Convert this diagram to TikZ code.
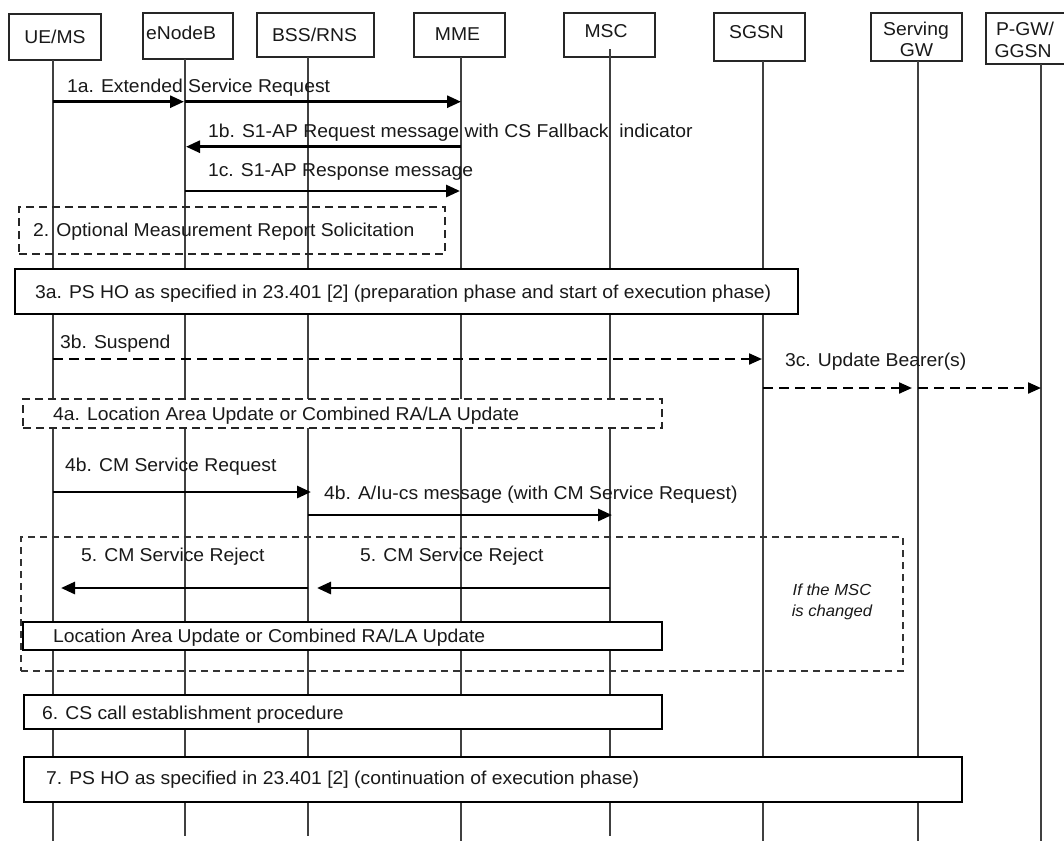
\documentclass[tikz,border=0pt]{standalone}
\usepackage{fontspec}
\setmainfont{Liberation Sans}[FakeStretch=1.04]
\usetikzlibrary{arrows.meta}
\begin{document}
\begin{tikzpicture}[x=1pt,y=-1pt,
  txt/.style={font=\fontsize{18.6}{22}\selectfont, text=black!90, inner sep=0pt, outer sep=0pt},
  lbl/.style={txt, anchor=base west},
  ctr/.style={txt, anchor=base},
  hbox/.style={draw=black!85, line width=1.4pt, fill=white, inner sep=0pt, outer sep=0pt},
  life/.style={draw=black!75, line width=1.1pt},
  msg/.style={draw=black, line width=2.8pt, -{Triangle[length=14pt,width=12pt]}},
  dmsg/.style={draw=black, line width=2.1pt, dash pattern=on 10pt off 6pt, -{Triangle[length=13pt,width=11pt]}},
  dbox/.style={draw=black!85, line width=1.5pt, dash pattern=on 8pt off 5pt, anchor=north west, inner sep=0pt, outer sep=0pt},
  sbox/.style={draw=black, line width=2pt, fill=white, anchor=north west, inner sep=0pt, outer sep=0pt},
]
\clip (0,0) rectangle (1064,841);
\fill[white] (0,0) rectangle (1064,841);

% header boxes
\node[hbox, minimum width=92pt, minimum height=46pt] (ueB) at (55,37) {};
\node[hbox, minimum width=90pt, minimum height=46pt] (enbB) at (188,36) {};
\node[hbox, minimum width=117pt, minimum height=44pt] (bssB) at (315.5,35) {};
\node[hbox, minimum width=91pt, minimum height=44pt] (mmeB) at (459.5,35) {};
\node[hbox, minimum width=91pt, minimum height=44pt] (mscB) at (609.5,35) {};
\node[hbox, minimum width=91pt, minimum height=48pt] (sgsnB) at (759.5,37) {};
\node[hbox, minimum width=91pt, minimum height=48pt] (sgwB) at (916.5,37) {};
\node[hbox, minimum width=94pt, minimum height=51pt] (pgwB) at (1033,38.5) {};

\node[ctr] (ueT) at (55,43.3) {UE/MS};
\node[ctr] (enbT) at (181,39.3) {eNodeB};
\node[ctr] (bssT) at (314.5,41.7) {BSS/RNS};
\node[ctr] (mmeT) at (457.5,40) {MME};
\node[ctr] (mscT) at (606,37.3) {MSC};
\node[ctr] (sgsnT) at (756.5,38.3) {SGSN};
\node[ctr] (sgwT1) at (916,35) {Serving};
\node[ctr] (sgwT2) at (916.5,56.7) {GW};
\node[ctr] (pgwT1) at (1025,35) {P-GW/};
\node[ctr] (pgwT2) at (1023,57) {GGSN};

% lifelines
\coordinate (ueL0) at (53,60);    \coordinate (ueL1) at (53,841);
\coordinate (enbL0) at (185,59);  \coordinate (enbL1) at (185,836);
\coordinate (bssL0) at (308,57);  \coordinate (bssL1) at (308,836);
\coordinate (mmeL0) at (461,57);  \coordinate (mmeL1) at (461,841);
\coordinate (mscL0) at (610,49);  \coordinate (mscL1) at (610,836);
\coordinate (sgsnL0) at (763,61); \coordinate (sgsnL1) at (763,841);
\coordinate (sgwL0) at (918,61);  \coordinate (sgwL1) at (918,841);
\coordinate (pgwL0) at (1041,64); \coordinate (pgwL1) at (1041,841);
\foreach \n in {ue,enb,bss,mme,msc,sgsn,sgw,pgw}{
  \draw[life] (\n L0) -- (\n L1);
}

% boxes
\node[dbox, minimum width=426pt, minimum height=47pt] (b2) at (19,207) {};
\node[sbox, minimum width=783pt, minimum height=45pt] (b3a) at (15,269) {};
\node[dbox, fill=white, minimum width=639pt, minimum height=29pt] (b4a) at (23,399) {};
\node[dbox, draw=black!80, line width=1.3pt, dash pattern=on 7pt off 5pt, minimum width=882pt, minimum height=134pt] (b5) at (21,537) {};
\node[sbox, minimum width=639pt, minimum height=28pt] (bLau) at (23,622) {};
\node[sbox, minimum width=638pt, minimum height=34pt] (b6) at (24,695) {};
\node[sbox, minimum width=938pt, minimum height=45pt] (b7) at (24,757) {};

\node[lbl] (t2) at (33,236.5) {2. Optional Measurement Report Solicitation};
\node[lbl] (t3a) at (35,298) {3a. PS HO as specified in 23.401 [2] (preparation phase and start of execution phase)};
\node[lbl] (t4a) at (53,420) {4a. Location Area Update or Combined RA/LA Update};
\node[lbl] (tLau) at (53,642.5) {Location Area Update or Combined RA/LA Update};
\node[lbl] (t6) at (42,719.5) {6. CS call establishment procedure};
\node[lbl] (t7) at (46,784) {7. PS HO as specified in 23.401 [2] (continuation of execution phase)};

\node[txt, font=\fontsize{16}{20}\selectfont\itshape, anchor=base] (ifmsc1) at (832,595.5) {If the MSC};
\node[txt, font=\fontsize{16}{20}\selectfont\itshape, anchor=base] (ifmsc2) at (832,616) {is changed};

% message end points
\coordinate (a1a0) at (53,101.7);  \coordinate (a1a1) at (184,101.7);
\coordinate (a1a2) at (185,101.7); \coordinate (a1a3) at (461,101.7);
\coordinate (a1b0) at (461,146.7); \coordinate (a1b1) at (186,146.7);
\coordinate (a1c0) at (185,191);   \coordinate (a1c1) at (460,191);
\coordinate (a3b0) at (53,359);    \coordinate (a3b1) at (762,359);
\coordinate (a3c0) at (763,388);   \coordinate (a3c1) at (912,388);
\coordinate (a3c2) at (918,388);   \coordinate (a3c3) at (1041,388);
\coordinate (a4b0) at (53,492);    \coordinate (a4b1) at (311,492);
\coordinate (a4c0) at (308,515);   \coordinate (a4c1) at (612,515);
\coordinate (a50) at (610,588);    \coordinate (a51) at (317,588);
\coordinate (a52) at (308,588);    \coordinate (a53) at (61,588);

\draw[msg] (a1a0) -- (a1a1);
\draw[msg] (a1a2) -- (a1a3);
\draw[msg] (a1b0) -- (a1b1);
\draw[msg] (a1c0) -- (a1c1);
\draw[dmsg] (a3b0) -- (a3b1);
\draw[dmsg] (a3c0) -- (a3c1);
\draw[dmsg] (a3c2) -- (a3c3);
\draw[msg] (a4b0) -- (a4b1);
\draw[msg] (a4c0) -- (a4c1);
\draw[msg] (a50) -- (a51);
\draw[msg] (a52) -- (a53);

% labels
\node[lbl] (l1a) at (67,92) {1a. Extended Service Request};
\node[lbl] (l1b) at (208,137.5) {1b. S1-AP Request message with CS Fallback\ \ indicator};
\node[lbl] (l1c) at (208,176.5) {1c. S1-AP Response message};
\node[lbl] (l3b) at (60,348) {3b. Suspend};
\node[lbl] (l3c) at (785,366.5) {3c. Update Bearer(s)};
\node[lbl] (l4b) at (65,471) {4b. CM Service Request};
\node[lbl] (l4c) at (324,499) {4b. A/Iu-cs message (with CM Service Request)};
\node[lbl] (l5a) at (81,561.5) {5. CM Service Reject};
\node[lbl] (l5b) at (360,561.5) {5. CM Service Reject};
\end{tikzpicture}
\end{document}
